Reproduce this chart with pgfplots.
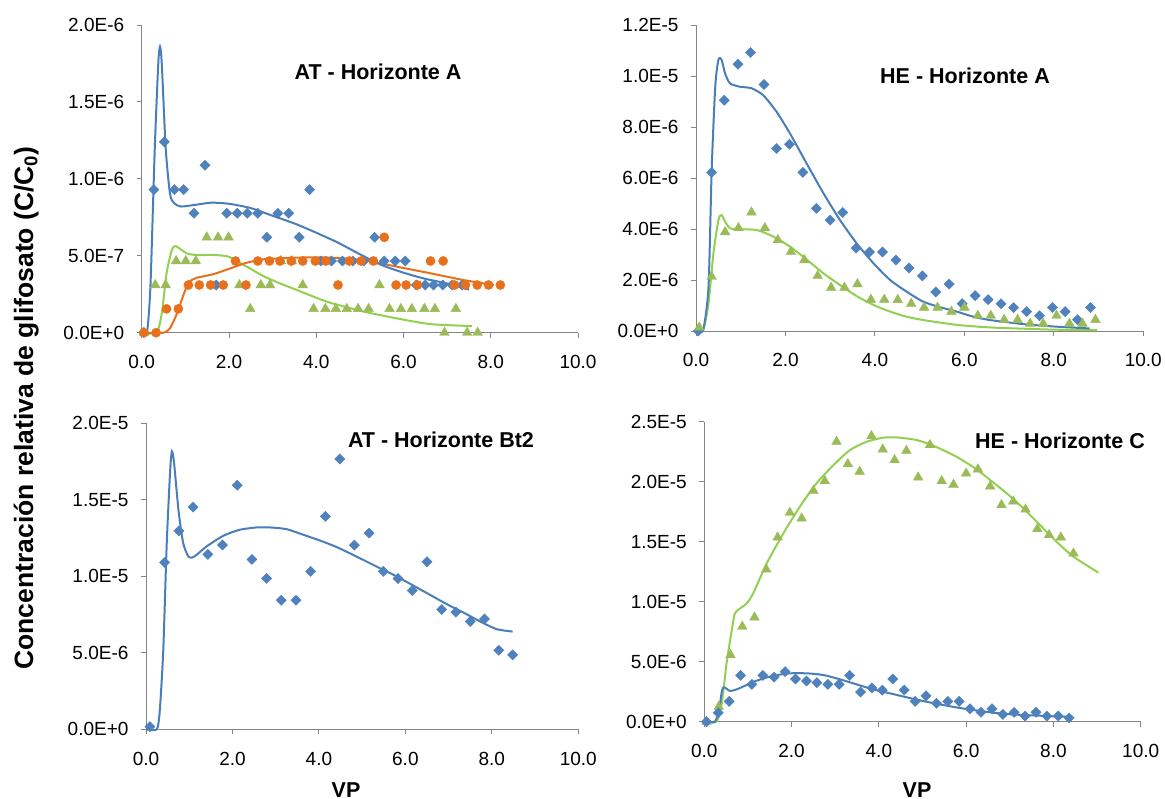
\documentclass[border=0pt]{standalone}
\usepackage{pgfplots}
\pgfplotsset{compat=1.18}
\usepackage{fontspec}
\setmainfont{Liberation Sans}

\definecolor{mblue}{HTML}{4F81BD}
\definecolor{lblue}{HTML}{4A7EBB}
\definecolor{morange}{HTML}{E8701C}
\definecolor{mgreen}{HTML}{9BBB59}
\definecolor{lgreen}{HTML}{92D050}
\definecolor{axgray}{HTML}{868686}

\newcommand{\tickfont}{\fontsize{19}{22}\selectfont}
\newcommand{\titfont}{\fontsize{21.5}{25}\selectfont\bfseries}

\pgfplotsset{
  panel/.style={
    scale only axis, anchor=south west,
    axis lines*=left, clip=false,
    xmin=0, xmax=10, ymin=0,
    scaled y ticks=false, scaled x ticks=false,
    axis line style={draw=axgray, line width=0.9},
    tick style={draw=axgray, line width=0.9},
    tick align=outside, major tick length=5,
    xtick={0,2,4,6,8,10},
    xticklabels={0.0,2.0,4.0,6.0,8.0,10.0},
    ticklabel style={font=\tickfont},
    xticklabel style={yshift=-14},
    yticklabel style={xshift=-9},
  },
  bmk/.style={only marks, mark=square*, mark size=3.6,
    mark options={rotate=45, fill=mblue, draw=mblue}},
  omk/.style={only marks, mark=*, mark size=4.6,
    mark options={fill=morange, draw=morange}},
  gmk/.style={only marks, mark=triangle*, mark size=5.6,
    mark options={fill=mgreen, draw=mgreen}},
  bln/.style={no marks, draw=lblue, line width=2, smooth, tension=0.4},
  oln/.style={no marks, draw=morange, line width=2, smooth, tension=0.4},
  gln/.style={no marks, draw=lgreen, line width=2, smooth, tension=0.4},
}

\begin{document}
\begin{tikzpicture}
\useasboundingbox (0pt,0pt) rectangle (1165pt,-799pt);

% AT - Horizonte A
\begin{axis}[panel, at={(141.7pt,-332.7pt)}, width=436.3pt, height=307.7pt,
  ymax=2e-6, ytick={0,5e-7,1e-6,1.5e-6,2e-6},
  yticklabels={0.0E+0,5.0E-7,1.0E-6,1.5E-6,2.0E-6}]
\addplot[gmk] coordinates {
(0.05,0) (0.31,3.1e-7) (0.55,3.1e-7) (0.79,4.66e-7) (1.01,4.66e-7) (1.24,4.66e-7)
(1.49,6.2e-7) (1.75,6.2e-7) (1.99,6.2e-7) (2.24,3.1e-7) (2.49,1.55e-7) (2.73,3.1e-7)
(2.94,3.1e-7) (3.19,4.66e-7) (3.44,4.66e-7) (3.69,3.1e-7) (3.94,1.55e-7) (4.21,1.55e-7)
(4.45,1.55e-7) (4.70,1.55e-7) (4.96,1.55e-7) (5.20,1.55e-7) (5.45,3.1e-7) (5.68,1.55e-7)
(5.94,1.55e-7) (6.19,1.55e-7) (6.48,1.55e-7) (6.72,1.55e-7) (6.94,0) (7.20,1.55e-7)
(7.46,0) (7.70,0)};
\addplot[bmk] coordinates {
(0.05,0) (0.28,9.3e-7) (0.52,1.24e-6) (0.75,9.3e-7) (0.96,9.3e-7) (1.20,7.76e-7)
(1.45,1.088e-6) (1.71,3.1e-7) (1.95,7.76e-7) (2.19,7.76e-7) (2.42,7.76e-7) (2.66,7.76e-7)
(2.87,6.2e-7) (3.12,7.76e-7) (3.37,7.76e-7) (3.61,6.2e-7) (3.85,9.3e-7) (4.11,4.66e-7)
(4.35,4.66e-7) (4.60,4.66e-7) (4.84,4.66e-7) (5.09,4.66e-7) (5.34,6.2e-7) (5.56,4.66e-7)
(5.81,4.66e-7) (6.04,4.66e-7) (6.29,3.1e-7) (6.50,3.1e-7) (6.69,3.1e-7) (6.90,3.1e-7)
(7.11,3.1e-7) (7.34,3.1e-7)};
\addplot[omk] coordinates {
(0.05,0) (0.33,0) (0.57,1.55e-7) (0.84,1.55e-7) (1.07,3.1e-7) (1.32,3.1e-7)
(1.58,3.1e-7) (1.87,3.1e-7) (2.15,4.66e-7) (2.39,3.1e-7) (2.66,4.66e-7) (2.93,4.66e-7)
(3.17,4.66e-7) (3.43,4.66e-7) (3.69,4.66e-7) (3.98,4.66e-7) (4.22,4.66e-7) (4.50,3.1e-7)
(4.76,4.66e-7) (5.03,4.66e-7) (5.31,4.66e-7) (5.56,6.2e-7) (5.83,3.1e-7) (6.06,3.1e-7)
(6.32,3.1e-7) (6.62,4.66e-7) (6.91,4.66e-7) (7.17,3.1e-7) (7.42,3.1e-7) (7.69,3.1e-7)
(7.95,3.1e-7) (8.22,3.1e-7)};
\addplot[gln] coordinates {
(0,0) (0.34,0) (0.46,1.26e-7) (0.57,3.86e-7) (0.69,5.37e-7) (0.78,5.63e-7) (1.03,5.16e-7)
(1.26,5.05e-7) (1.64,5.05e-7) (1.99,4.94e-7) (2.41,4.29e-7) (2.79,3.68e-7) (3.17,3.2e-7)
(3.56,2.77e-7) (3.94,2.34e-7) (4.32,1.95e-7) (5.09,1.37e-7) (5.85,9.3e-8) (6.61,5.6e-8)
(7.57,4.3e-8)};
\addplot[oln] coordinates {
(0,0) (0.5,0) (0.65,3e-8) (0.8,1.2e-7) (0.99,2.7e-7) (1.09,3.3e-7) (1.26,3.57e-7)
(1.64,3.8e-7) (2.03,4.18e-7) (2.41,4.55e-7) (2.79,4.77e-7) (3.17,4.83e-7) (3.79,4.9e-7)
(4.32,4.88e-7) (5.09,4.72e-7) (5.85,4.29e-7) (6.62,3.86e-7) (7.38,3.42e-7) (8.07,3.1e-7)};
\addplot[bln] coordinates {
(0,0) (0.12,0) (0.2,3e-7) (0.3,1.2e-6) (0.38,1.75e-6) (0.42,1.86e-6) (0.46,1.75e-6)
(0.55,1.2e-6) (0.65,9.0e-7) (0.75,8.4e-7) (0.9,8.2e-7) (1.2,8.3e-7) (1.6,8.45e-7)
(2.0,8.38e-7) (2.5,8.1e-7) (3.0,7.6e-7) (3.5,7.1e-7) (4.0,6.5e-7) (4.5,5.85e-7)
(5.0,5.1e-7) (5.5,4.4e-7) (6.0,3.9e-7) (6.5,3.5e-7) (7.0,3.2e-7) (7.5,2.8e-7)};
\end{axis}

% HE - Horizonte A
\begin{axis}[panel, at={(696pt,-331pt)}, width=447.3pt, height=306pt,
  ymax=1.2e-5, ytick={0,2e-6,4e-6,6e-6,8e-6,1e-5,1.2e-5},
  yticklabels={0.0E+0,2.0E-6,4.0E-6,6.0E-6,8.0E-6,1.0E-5,1.2E-5}]
\addplot[bmk] coordinates {
(0.05,0) (0.35,6.22e-6) (0.63,9.05e-6) (0.94,1.046e-5) (1.22,1.092e-5) (1.52,9.67e-6)
(1.80,7.16e-6) (2.09,7.32e-6) (2.39,6.22e-6) (2.69,4.81e-6) (3.0,4.35e-6) (3.28,4.65e-6)
(3.58,3.25e-6) (3.88,3.10e-6) (4.17,3.10e-6) (4.47,2.78e-6) (4.76,2.47e-6) (5.06,2.16e-6)
(5.36,1.53e-6) (5.66,1.84e-6) (5.95,1.07e-6) (6.24,1.39e-6) (6.53,1.23e-6) (6.82,1.07e-6)
(7.10,9.2e-7) (7.39,7.6e-7) (7.68,6.0e-7) (7.97,9.2e-7) (8.25,7.6e-7) (8.53,4.4e-7)
(8.82,9.2e-7)};
\addplot[gmk] coordinates {
(0.07,1.4e-7) (0.35,2.13e-6) (0.65,3.88e-6) (0.95,4.04e-6) (1.24,4.65e-6) (1.54,4.04e-6)
(1.83,3.57e-6) (2.12,3.10e-6) (2.42,2.78e-6) (2.72,2.16e-6) (3.02,1.70e-6) (3.32,1.70e-6)
(3.61,1.84e-6) (3.91,1.23e-6) (4.21,1.23e-6) (4.51,1.22e-6) (4.81,1.07e-6) (5.10,9.2e-7)
(5.40,9.2e-7) (5.71,7.6e-7) (6.0,9.2e-7) (6.30,6.0e-7) (6.59,6.0e-7) (6.89,4.4e-7)
(7.19,4.4e-7) (7.47,2.9e-7) (7.76,2.9e-7) (8.06,6.0e-7) (8.35,2.9e-7) (8.64,2.9e-7)
(8.93,4.4e-7)};
\addplot[gln] coordinates {
(0,0) (0.16,4e-8) (0.28,1.08e-6) (0.39,3.05e-6) (0.5,4.35e-6) (0.57,4.55e-6) (0.65,4.29e-6)
(0.76,4.03e-6) (0.98,3.99e-6) (1.36,3.96e-6) (1.73,3.70e-6) (2.1,3.31e-6) (2.47,2.81e-6)
(2.85,2.26e-6) (3.22,1.80e-6) (3.59,1.37e-6) (3.97,1.02e-6) (4.34,7.6e-7) (4.71,5.6e-7)
(5.08,4.3e-7) (5.83,2.4e-7) (6.57,1.4e-7) (7.32,9e-8) (8.06,5e-8) (8.96,3e-8)};
\addplot[bln] coordinates {
(0,0) (0.16,4e-8) (0.28,1.74e-6) (0.35,6.3e-6) (0.43,9.58e-6) (0.5,1.063e-5) (0.57,1.065e-5)
(0.65,1.01e-5) (0.76,9.71e-6) (0.98,9.58e-6) (1.24,9.52e-6) (1.5,9.25e-6) (1.8,8.6e-6)
(2.1,7.75e-6) (2.47,6.58e-6) (2.85,5.40e-6) (3.22,4.35e-6) (3.59,3.44e-6) (3.97,2.65e-6)
(4.34,2.0e-6) (4.71,1.54e-6) (5.08,1.15e-6) (5.46,9.3e-7) (5.83,7.6e-7) (6.2,5.6e-7)
(6.57,4.3e-7) (7.32,2.7e-7) (8.06,1.7e-7) (8.8,1.0e-7)};
\end{axis}

% AT - Horizonte Bt2
\begin{axis}[panel, at={(146pt,-729.3pt)}, width=432.3pt, height=306.3pt,
  ymax=2e-5, ytick={0,5e-6,1e-5,1.5e-5,2e-5},
  yticklabels={0.0E+0,5.0E-6,1.0E-5,1.5E-5,2.0E-5}]
\addplot[bmk] coordinates {
(0.09,1.7e-7) (0.43,1.09e-5) (0.76,1.296e-5) (1.09,1.451e-5) (1.43,1.142e-5) (1.77,1.203e-5)
(2.11,1.593e-5) (2.45,1.109e-5) (2.79,9.85e-6) (3.13,8.43e-6) (3.47,8.43e-6) (3.81,1.031e-5)
(4.15,1.390e-5) (4.48,1.765e-5) (4.82,1.203e-5) (5.16,1.281e-5) (5.49,1.031e-5) (5.83,9.85e-6)
(6.16,9.06e-6) (6.50,1.094e-5) (6.84,7.82e-6) (7.17,7.65e-6) (7.50,7.04e-6) (7.83,7.21e-6)
(8.16,5.16e-6) (8.48,4.86e-6)};
\addplot[bln] coordinates {
(0,0) (0.25,0) (0.32,1.26e-6) (0.40,5.2e-6) (0.48,1.216e-5) (0.56,1.695e-5) (0.6,1.815e-5)
(0.65,1.738e-5) (0.75,1.434e-5) (0.86,1.216e-5) (0.98,1.128e-5) (1.07,1.122e-5) (1.17,1.139e-5)
(1.4,1.194e-5) (1.79,1.264e-5) (2.17,1.303e-5) (2.56,1.318e-5) (2.87,1.318e-5) (3.25,1.307e-5)
(3.64,1.270e-5) (4.02,1.233e-5) (4.41,1.190e-5) (4.87,1.128e-5) (5.41,1.052e-5) (5.80,9.98e-6)
(6.18,9.39e-6) (6.57,8.78e-6) (6.96,8.17e-6) (7.34,7.63e-6) (7.73,7.04e-6) (8.11,6.54e-6)
(8.48,6.38e-6)};
\end{axis}

% HE - Horizonte C
\begin{axis}[panel, at={(704.3pt,-721.7pt)}, width=436.4pt, height=300pt,
  ymax=2.5e-5, ytick={0,5e-6,1e-5,1.5e-5,2e-5,2.5e-5},
  yticklabels={0.0E+0,5.0E-6,1.0E-5,1.5E-5,2.0E-5,2.5E-5}]
\addplot[gmk] coordinates {
(0.05,0) (0.33,1.25e-6) (0.60,5.56e-6) (0.87,7.92e-6) (1.15,8.69e-6) (1.42,1.269e-5)
(1.68,1.536e-5) (1.96,1.742e-5) (2.23,1.694e-5) (2.50,1.925e-5) (2.76,2.006e-5) (3.03,2.333e-5)
(3.29,2.147e-5) (3.56,2.083e-5) (3.83,2.381e-5) (4.09,2.269e-5) (4.36,2.181e-5) (4.63,2.258e-5)
(4.90,2.036e-5) (5.17,2.306e-5) (5.44,2.006e-5) (5.71,1.975e-5) (6.0,2.069e-5) (6.27,2.103e-5)
(6.55,1.961e-5) (6.81,1.806e-5) (7.08,1.836e-5) (7.36,1.769e-5) (7.63,1.606e-5) (7.90,1.556e-5)
(8.17,1.536e-5) (8.46,1.403e-5)};
\addplot[bmk] coordinates {
(0.05,0) (0.32,7.5e-7) (0.57,1.69e-6) (0.83,3.86e-6) (1.09,3.11e-6) (1.34,3.86e-6)
(1.60,3.72e-6) (1.85,4.17e-6) (2.09,3.56e-6) (2.34,3.39e-6) (2.58,3.25e-6) (2.83,3.11e-6)
(3.09,3.11e-6) (3.33,3.86e-6) (3.58,2.47e-6) (3.84,2.81e-6) (4.08,2.64e-6) (4.32,3.56e-6)
(4.58,2.64e-6) (4.83,1.69e-6) (5.08,2.17e-6) (5.32,1.53e-6) (5.58,1.69e-6) (5.84,1.69e-6)
(6.09,1.08e-6) (6.34,7.8e-7) (6.59,1.08e-6) (6.84,6.1e-7) (7.10,7.8e-7) (7.35,4.7e-7)
(7.60,7.8e-7) (7.85,4.7e-7) (8.11,4.7e-7) (8.36,3.1e-7)};
\addplot[gln] coordinates {
(0,0) (0.28,0) (0.4,1.5e-6) (0.51,4.86e-6) (0.63,7.64e-6) (0.70,9.03e-6) (0.82,9.44e-6)
(0.97,9.86e-6) (1.12,1.069e-5) (1.43,1.319e-5) (1.81,1.569e-5) (2.19,1.792e-5) (2.57,1.986e-5)
(2.96,2.139e-5) (3.34,2.264e-5) (3.72,2.333e-5) (4.1,2.367e-5) (4.41,2.369e-5) (4.87,2.347e-5)
(5.25,2.30e-5) (5.78,2.208e-5) (6.24,2.103e-5) (6.55,2.014e-5) (6.93,1.903e-5) (7.31,1.778e-5)
(7.69,1.639e-5) (8.07,1.50e-5) (8.46,1.375e-5) (9.03,1.242e-5)};
\addplot[bln] coordinates {
(0,0) (0.24,0) (0.34,9.7e-7) (0.40,2.5e-6) (0.44,2.86e-6) (0.5,2.78e-6) (0.59,2.56e-6)
(0.74,2.69e-6) (0.97,3.06e-6) (1.2,3.42e-6) (1.58,3.83e-6) (1.96,4.03e-6) (2.35,4.03e-6)
(2.73,3.89e-6) (3.11,3.53e-6) (3.49,3.11e-6) (3.87,2.69e-6) (4.26,2.36e-6) (4.64,2.03e-6)
(5.02,1.72e-6) (5.4,1.44e-6) (5.78,1.19e-6) (6.17,9.7e-7) (6.55,7.8e-7) (6.93,6.4e-7)
(7.31,5.6e-7) (7.69,5.0e-7) (8.07,4.4e-7) (8.36,4.2e-7)};
\end{axis}

\node[font=\titfont, anchor=base] at (378pt,-80pt) {AT - Horizonte A};
\node[font=\titfont, anchor=base] at (965pt,-84pt) {HE - Horizonte A};
\node[font=\titfont, anchor=base] at (441pt,-448pt) {AT - Horizonte Bt2};
\node[font=\titfont, anchor=base] at (1060pt,-449pt) {HE - Horizonte C};
\node[font=\titfont, anchor=south, inner sep=0pt] at (346pt,-798pt) {VP};
\node[font=\titfont, anchor=south, inner sep=0pt] at (917pt,-798pt) {VP};
\node[font=\fontsize{26.5}{30}\selectfont\bfseries, rotate=90, anchor=base] at (33pt,-408pt)
  {Concentración relativa de glifosato (C/C\textsubscript{0})};
\end{tikzpicture}
\end{document}
